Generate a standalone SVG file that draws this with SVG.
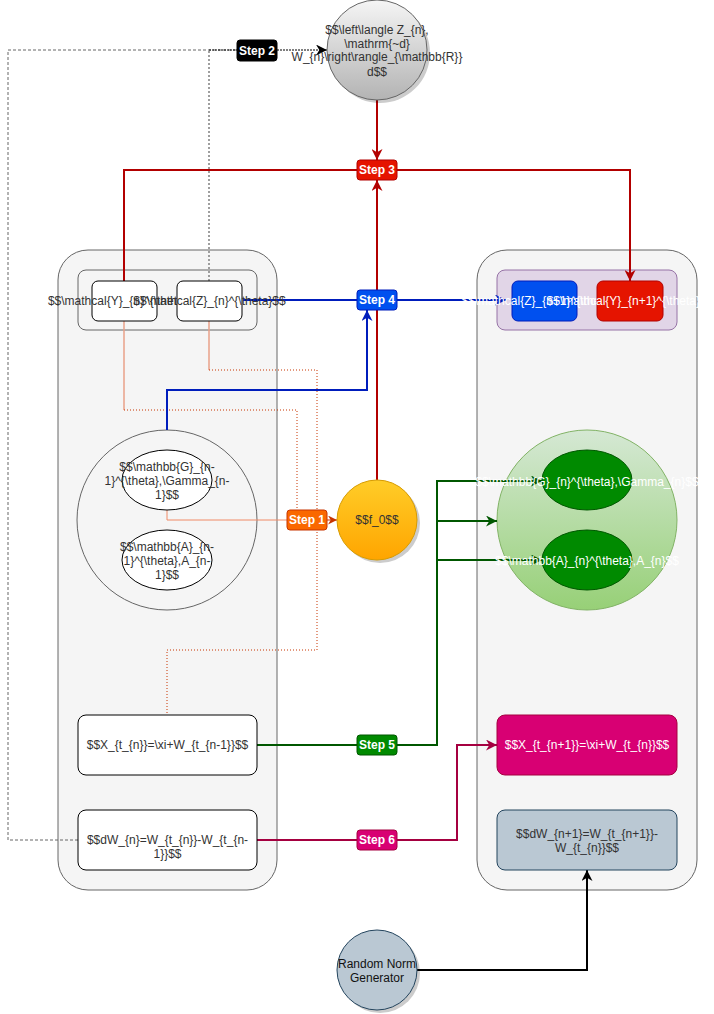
<svg xmlns="http://www.w3.org/2000/svg" width="714" height="1014" viewBox="0 0 714 1014">
<style>
.t{font-family:"Liberation Sans",Arial,sans-serif;font-size:12px;fill:#333;text-anchor:middle}
.w{fill:#fff}
.b{font-weight:bold;fill:#fff}
.k{fill:#111}
.cont{fill:#f5f5f5;stroke:#666;stroke-width:1}
.e{fill:none;stroke-width:2}
</style>
<defs>
<linearGradient id="gGray" x1="0" y1="0" x2="0" y2="1"><stop offset="0" stop-color="#f5f5f5"/><stop offset="1" stop-color="#b3b3b3"/></linearGradient>
<linearGradient id="gOr" x1="0" y1="0" x2="0" y2="1"><stop offset="0" stop-color="#ffcd28"/><stop offset="1" stop-color="#ffa500"/></linearGradient>
<linearGradient id="gGr" x1="0" y1="0" x2="0" y2="1"><stop offset="0" stop-color="#d5e8d4"/><stop offset="1" stop-color="#97d077"/></linearGradient>
<marker id="mR" viewBox="0 0 10 10" refX="10" refY="5" markerWidth="11" markerHeight="11" markerUnits="userSpaceOnUse" orient="auto"><path d="M0,0L10,5L0,10L3,5z" fill="#B20000"/></marker>
<marker id="mB" viewBox="0 0 10 10" refX="10" refY="5" markerWidth="11" markerHeight="11" markerUnits="userSpaceOnUse" orient="auto"><path d="M0,0L10,5L0,10L3,5z" fill="#001DBC"/></marker>
<marker id="mG" viewBox="0 0 10 10" refX="10" refY="5" markerWidth="11" markerHeight="11" markerUnits="userSpaceOnUse" orient="auto"><path d="M0,0L10,5L0,10L3,5z" fill="#005700"/></marker>
<marker id="mO" viewBox="0 0 10 10" refX="10" refY="5" markerWidth="9" markerHeight="9" markerUnits="userSpaceOnUse" orient="auto"><path d="M0,0L10,5L0,10L3,5z" fill="#C73500"/></marker>
<marker id="mM" viewBox="0 0 10 10" refX="10" refY="5" markerWidth="11" markerHeight="11" markerUnits="userSpaceOnUse" orient="auto"><path d="M0,0L10,5L0,10L3,5z" fill="#A50040"/></marker>
<marker id="mK" viewBox="0 0 10 10" refX="10" refY="5" markerWidth="11" markerHeight="11" markerUnits="userSpaceOnUse" orient="auto"><path d="M0,0L10,5L0,10L3,5z" fill="#000"/></marker>
</defs>
<rect width="714" height="1014" fill="#fff"/>

<g id="left-container"><rect class="cont" x="58" y="250" width="219" height="640" rx="30"/></g>
<g id="right-container"><rect class="cont" x="477" y="250" width="220" height="640" rx="30"/></g>
<g id="left-top-group"><rect x="78" y="270" width="179" height="60" rx="8" fill="#f5f5f5" stroke="#666"/></g>
<g id="right-top-group"><rect x="497" y="270" width="180" height="60" rx="8" fill="#e1d5e7" stroke="#9673a6"/></g>
<g id="left-circle"><circle cx="167" cy="520" r="90" fill="#f5f5f5" stroke="#666"/></g>
<g id="right-circle"><circle cx="587" cy="520" r="90" fill="url(#gGr)" stroke="#82b366"/></g>

<g id="connectors">
  <!-- step 2 -->
  <path d="M78,840H8V50H237" fill="none" stroke="#666" stroke-width="1" stroke-dasharray="3 2"/>
  <path d="M209,281V50" fill="none" stroke="#808080" stroke-width="1.5" stroke-dasharray="2 2"/>
  <path d="M209,50H237" fill="none" stroke="#000" stroke-width="1" stroke-dasharray="2 1"/>
  <path d="M277,50H327" fill="none" stroke="#000" stroke-width="1" stroke-dasharray="2 1" marker-end="url(#mK)"/>
  <!-- step 3 -->
  <path class="e" d="M377,100V160" stroke="#B20000" marker-end="url(#mR)"/>
  <path class="e" d="M377,480V180" stroke="#B20000" marker-end="url(#mR)"/>
  <path class="e" d="M124,281V170H630V281" stroke="#B20000" marker-end="url(#mR)"/>
  <!-- orange -->
  <path d="M124,321V410" fill="none" stroke="#e8a088" stroke-width="1.5"/>
  <path d="M124,410H297V510" fill="none" stroke="#C73500" stroke-width="1" stroke-dasharray="1 2"/>
  <path d="M209,321V370" fill="none" stroke="#e8a088" stroke-width="1.5"/>
  <path d="M209,370H317V650H167V715" fill="none" stroke="#C73500" stroke-width="1" stroke-dasharray="1 2"/>
  <path d="M167,510V520H287" fill="none" stroke="#f08a66" stroke-width="1"/>
  <path d="M327,520H337" fill="none" stroke="#C73500" stroke-width="1" marker-end="url(#mO)"/>
  <!-- step 4 -->
  <path class="e" d="M243,300H506" stroke="#001DBC" marker-end="url(#mB)"/>
  <path class="e" d="M167,430V390H367V310" stroke="#001DBC" marker-end="url(#mB)"/>
  <!-- step 5 -->
  <path class="e" d="M257,745H437V481H542" stroke="#005700" marker-end="url(#mG)"/>
  <path class="e" d="M437,521H497" stroke="#005700" marker-end="url(#mG)"/>
  <path class="e" d="M437,560H542" stroke="#005700" marker-end="url(#mG)"/>
  <!-- step 6 -->
  <path class="e" d="M257,840H457V745H497" stroke="#A50040" marker-end="url(#mM)"/>
  <!-- generator -->
  <path class="e" d="M417,970H587V870" stroke="#000" marker-end="url(#mK)"/>
</g>

<g id="inner-product">
  <circle cx="380" cy="53" r="50" fill="#000" opacity="0.2"/>
  <circle cx="377" cy="50" r="50" fill="url(#gGray)" stroke="#666"/>
  <text class="t" x="377" y="34">$$\left\langle Z_{n},</text>
  <text class="t" x="377" y="48">\mathrm{~d}</text>
  <text class="t" x="377" y="61">W_{n}\right\rangle_{\mathbb{R}}</text>
  <text class="t" x="377" y="76">d$$</text>
</g>
<g id="Y-n"><rect x="92" y="281" width="65" height="40" rx="6" fill="#fff" stroke="#000"/><text class="t" x="124.5" y="305">$$\mathcal{Y}_{n}^{\theta}$$</text></g>
<g id="Z-n"><rect x="177" y="281" width="65" height="40" rx="6" fill="#fff" stroke="#000"/><text class="t" x="209.5" y="305">$$\mathcal{Z}_{n}^{\theta}$$</text></g>
<g id="Z-n1"><rect x="512" y="281" width="65" height="40" rx="6" fill="#0050ef" stroke="#001DBC"/><text class="t w" x="544.5" y="305">$$\mathcal{Z}_{n+1}^{\theta}$$</text></g>
<g id="Y-n1"><rect x="597" y="281" width="66" height="40" rx="6" fill="#e51400" stroke="#B20000"/><text class="t w" x="630" y="305">$$\mathcal{Y}_{n+1}^{\theta}$$</text></g>

<g id="G-prev"><ellipse cx="167" cy="480" rx="45" ry="30" fill="#fff" stroke="#000"/>
  <text class="t" x="167" y="471">$$\mathbb{G}_{n-</text><text class="t" x="167" y="485">1}^{\theta},\Gamma_{n-</text><text class="t" x="167" y="499">1}$$</text></g>
<g id="A-prev"><ellipse cx="167" cy="560" rx="45" ry="30" fill="#fff" stroke="#000"/>
  <text class="t" x="167" y="551">$$\mathbb{A}_{n-</text><text class="t" x="167" y="565">1}^{\theta},A_{n-</text><text class="t" x="167" y="579">1}$$</text></g>
<g id="G-n"><ellipse cx="587" cy="480" rx="45" ry="30" fill="#008a00" stroke="#005700"/>
  <text class="t w" x="587" y="486">$$\mathbb{G}_{n}^{\theta},\Gamma_{n}$$</text></g>
<g id="A-n"><ellipse cx="587" cy="560" rx="45" ry="30" fill="#008a00" stroke="#005700"/>
  <text class="t w" x="587" y="565">$$\mathbb{A}_{n}^{\theta},A_{n}$$</text></g>

<g id="f0"><circle cx="380" cy="523" r="40" fill="#000" opacity="0.2"/><circle cx="377" cy="520" r="40" fill="url(#gOr)" stroke="#d79b00"/>
  <text class="t" x="377" y="524">$$f_0$$</text></g>

<g id="X-n"><rect x="78" y="715" width="179" height="60" rx="8" fill="#fff" stroke="#000"/><text class="t" x="167.5" y="749">$$X_{t_{n}}=\xi+W_{t_{n-1}}$$</text></g>
<g id="dW-n"><rect x="78" y="810" width="179" height="60" rx="8" fill="#fff" stroke="#000"/>
  <text class="t" x="167.5" y="844">$$dW_{n}=W_{t_{n}}-W_{t_{n-</text><text class="t" x="167.5" y="858">1}}$$</text></g>
<g id="X-n1"><rect x="497" y="715" width="180" height="60" rx="8" fill="#d80073" stroke="#A50040"/><text class="t w" x="587" y="749">$$X_{t_{n+1}}=\xi+W_{t_{n}}$$</text></g>
<g id="dW-n1"><rect x="497" y="810" width="180" height="60" rx="8" fill="#bac8d3" stroke="#23445d"/>
  <text class="t" x="587" y="838">$$dW_{n+1}=W_{t_{n+1}}-</text><text class="t" x="587" y="852">W_{t_{n}}$$</text></g>
<g id="generator"><circle cx="380" cy="973" r="40" fill="#000" opacity="0.2"/><circle cx="377" cy="970" r="40" fill="#bac8d3" stroke="#23445d"/>
  <text class="t k" x="377" y="968">Random Norm</text><text class="t k" x="377" y="982">Generator</text></g>

<g id="labels">
  <g id="step1"><rect x="287" y="510" width="40" height="20" rx="3" fill="#fa6800" stroke="#C73500"/><text class="t b" x="307" y="524">Step 1</text></g>
  <g id="step2"><rect x="237" y="40" width="40" height="21" rx="3" fill="#000" stroke="#000"/><text class="t b" x="257" y="55">Step 2</text></g>
  <g id="step3"><rect x="357" y="160" width="40" height="20" rx="3" fill="#e51400" stroke="#B20000"/><text class="t b" x="377" y="174">Step 3</text></g>
  <g id="step4"><rect x="357" y="290" width="40" height="20" rx="3" fill="#0050ef" stroke="#001DBC"/><text class="t b" x="377" y="304">Step 4</text></g>
  <g id="step5"><rect x="357" y="735" width="40" height="20" rx="3" fill="#008a00" stroke="#005700"/><text class="t b" x="377" y="749">Step 5</text></g>
  <g id="step6"><rect x="357" y="830" width="40" height="20" rx="3" fill="#d80073" stroke="#A50040"/><text class="t b" x="377" y="844">Step 6</text></g>
</g>
</svg>
